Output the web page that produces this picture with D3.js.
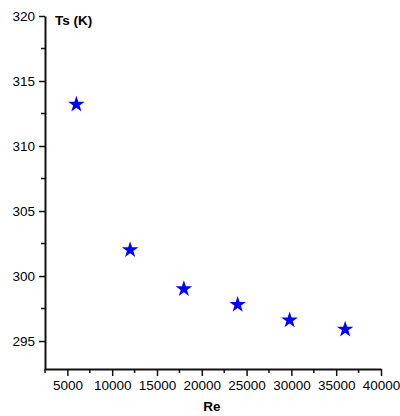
<!DOCTYPE html>
<html>
<head>
<meta charset="utf-8">
<script src="https://cdn.jsdelivr.net/npm/d3@7"></script>
<style>
  body { margin: 0; background: #fff; }
  svg { display: block; font-family: "Liberation Sans", Arial, sans-serif; }
</style>
</head>
<body>
<div id="chart"></div>
<script>
// Re vs surface temperature
const reValues = [6000, 12000, 18000, 24000, 29800, 36000];
const tsValues = [313.2, 302.0, 299.0, 297.8, 296.6, 295.9];
const xTicks = [5000, 10000, 15000, 20000, 25000, 30000, 35000, 40000];
const yTicks = [295, 300, 305, 310, 315, 320];

const width = 400, height = 416;
const margin = { top: 16, right: 19, bottom: 47, left: 45 };

const svg = d3.select("#chart").append("svg")
    .attr("width", width)
    .attr("height", height);

const x = d3.scaleLinear()
    .domain([2500, 40000])
    .range([margin.left, width - margin.right]);

const y = d3.scaleLinear()
    .domain([292.85, 320])
    .range([height - margin.bottom, margin.top]);

// minor ticks
const xMinor = d3.range(2500, 40001, 2500).filter(v => !xTicks.includes(v));
const yMinor = d3.range(295, 320, 2.5).filter(v => !yTicks.includes(v));

const xAxis = svg.append("g")
    .attr("transform", `translate(0,${height - margin.bottom})`)
    .call(d3.axisBottom(x).tickValues(xTicks).tickSize(7).tickSizeOuter(0).tickPadding(4).tickFormat(d3.format("d")));

xAxis.selectAll(".tick-minor")
    .data(xMinor)
    .join("line")
    .attr("x1", d => x(d)).attr("x2", d => x(d))
    .attr("y1", 0).attr("y2", 4)
    .attr("stroke", "#111").attr("stroke-width", 1.5);

const yAxis = svg.append("g")
    .attr("transform", `translate(${margin.left},0)`)
    .call(d3.axisLeft(y).tickValues(yTicks).tickSize(6).tickSizeOuter(0).tickPadding(4));

yAxis.selectAll(".tick-minor")
    .data(yMinor)
    .join("line")
    .attr("x1", -4).attr("x2", 0)
    .attr("y1", d => y(d)).attr("y2", d => y(d))
    .attr("stroke", "#111").attr("stroke-width", 1.5);

svg.selectAll(".domain").attr("stroke", "#111").attr("stroke-width", 2);
svg.selectAll(".tick line").attr("stroke", "#111").attr("stroke-width", 1.5);
svg.selectAll(".tick text").attr("font-size", 13.5).attr("fill", "#000")
    .attr("font-family", "Liberation Sans, Arial, sans-serif");

// axis titles
svg.append("text")
    .attr("x", 55).attr("y", 25)
    .attr("font-size", 13.5).attr("font-weight", "bold")
    .text("Ts (K)");

svg.append("text")
    .attr("x", 212).attr("y", 411)
    .attr("text-anchor", "middle")
    .attr("font-size", 13.5).attr("font-weight", "bold")
    .text("Re");

// stars
svg.append("g")
    .selectAll("path")
    .data(reValues.map((r, i) => [r, tsValues[i]]))
    .join("path")
    .attr("transform", d => `translate(${x(d[0])},${y(d[1])})`)
    .attr("d", d3.symbol(d3.symbolStar, 85))
    .attr("fill", "#0000ff");
</script>
</body>
</html>
